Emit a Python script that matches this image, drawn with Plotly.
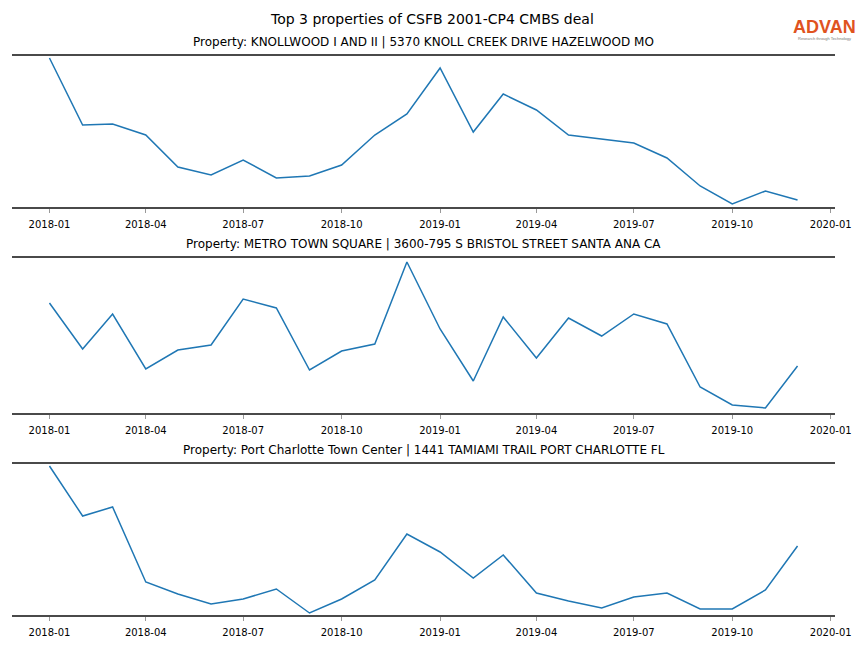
import plotly.graph_objects as go
from plotly.subplots import make_subplots

months = ["2018-01-01", "2018-02-01", "2018-03-01", "2018-04-01", "2018-05-01", "2018-06-01",
          "2018-07-01", "2018-08-01", "2018-09-01", "2018-10-01", "2018-11-01", "2018-12-01",
          "2019-01-01", "2019-02-01", "2019-03-01", "2019-04-01", "2019-05-01", "2019-06-01",
          "2019-07-01", "2019-08-01", "2019-09-01", "2019-10-01", "2019-11-01", "2019-12-01"]

titles = [
    "Property: KNOLLWOOD I AND II | 5370 KNOLL CREEK DRIVE HAZELWOOD MO",
    "Property: METRO TOWN SQUARE | 3600-795 S BRISTOL STREET SANTA ANA CA",
    "Property: Port Charlotte Town Center | 1441 TAMIAMI TRAIL PORT CHARLOTTE FL",
]

# relative foot-traffic index
knollwood = [149, 82, 83, 72, 40, 32, 47, 29, 31, 42, 72, 93,
             139, 75, 113, 97, 72, 68, 64, 49, 21, 3, 16, 7]
metro = [110, 64, 99, 44, 63, 68, 114, 105, 43, 62, 69, 151,
         84, 32, 96, 55, 95, 77, 99, 89, 26, 8, 5, 47]
charlotte = [149, 99, 108, 33, 21, 11, 16, 26, 2, 16, 35, 81,
             63, 37, 60, 22, 14, 7, 18, 22, 6, 6, 25, 69]
series = [knollwood, metro, charlotte]
y_ranges = [[0, 151], [0, 155], [0, 151]]

W, H = 864, 648
panels_px = [(56, 207), (258, 413), (464, 615)]  # top, bottom in pixels

fig = make_subplots(rows=3, cols=1)
for i, vals in enumerate(series):
    fig.add_trace(go.Scatter(x=months, y=vals, mode="lines",
                             line=dict(color="#1f77b4", width=1.5),
                             showlegend=False), row=i + 1, col=1)

layout = dict(
    width=W, height=H,
    margin=dict(l=12, r=29, t=0, b=0),
    plot_bgcolor="white", paper_bgcolor="white",
    font=dict(family="DejaVu Sans", color="black"),
)
fig.update_layout(**layout)

for i, (top, bot) in enumerate(panels_px):
    xa = "xaxis" if i == 0 else f"xaxis{i+1}"
    ya = "yaxis" if i == 0 else f"yaxis{i+1}"
    fig.layout[ya].update(domain=[1 - bot / H, 1 - top / H], range=y_ranges[i],
                          visible=False, fixedrange=True)
    fig.layout[xa].update(
        range=["2017-11-27", "2020-01-05"],
        showline=True, mirror=True, linecolor="#4a4a4a", linewidth=2,
        showgrid=False, zeroline=False,
        ticks="outside", ticklen=4, tickwidth=1, tickcolor="#999999",
        ticklabelstandoff=3,
        tick0="2018-01-01", dtick="M3", tickformat="%Y-%m",
        tickfont=dict(size=10, family="DejaVu Sans", color="black"),
    )
    fig.add_annotation(text=titles[i], xref="paper", yref="paper",
                       x=0.5, xanchor="center", y=1 - (top - 5) / H, yanchor="bottom",
                       showarrow=False, font=dict(size=12, family="DejaVu Sans"))

fig.add_annotation(text="Top 3 properties of CSFB 2001-CP4 CMBS deal",
                   xref="paper", yref="paper", x=(432 - 12) / (835 - 12), xanchor="center",
                   y=1 - 19 / H, yanchor="middle", showarrow=False,
                   font=dict(size=14, family="DejaVu Sans"))

# logo
fig.add_annotation(text="<b>ADVAN</b>", xref="paper", yref="paper",
                   x=(824 - 12) / (835 - 12), xanchor="center",
                   y=1 - 27 / H, yanchor="middle",
                   showarrow=False,
                   font=dict(size=18, family="Liberation Sans", color="#E0531F"))
fig.add_annotation(text="Research through Technology", xref="paper", yref="paper",
                   x=(824 - 12) / (835 - 12), xanchor="center",
                   y=1 - 38.5 / H, yanchor="middle",
                   showarrow=False,
                   font=dict(size=4, family="Liberation Sans", color="#777777"))

fig.write_html("out.html", config={"displayModeBar": False},
               post_script="document.body.style.margin='0';")
